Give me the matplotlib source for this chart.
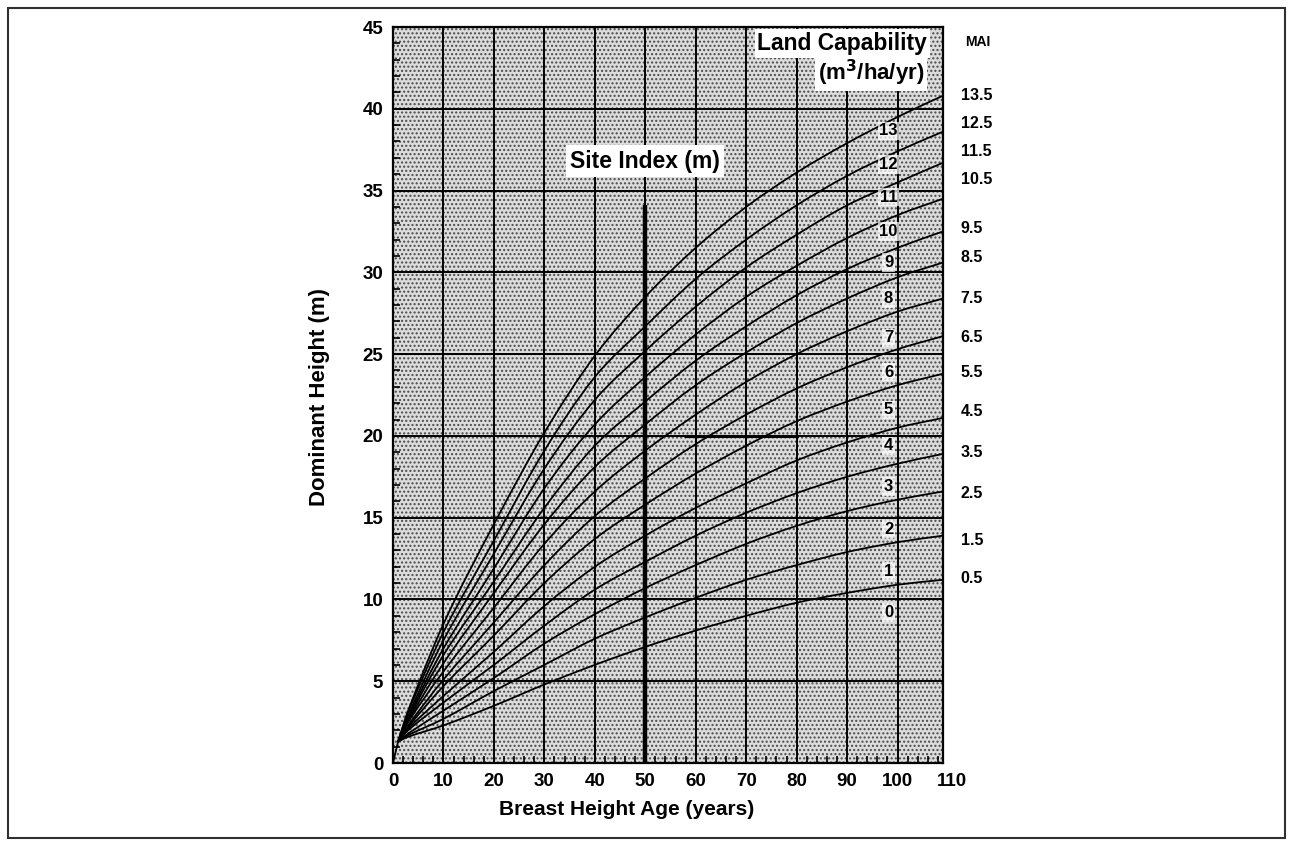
import matplotlib.pyplot as plt
from matplotlib.patches import Rectangle, PathPatch
from matplotlib.path import Path

FIGWIDTH = 12.93
FIGHEIGHT = 8.46

plt.rcParams['font.family'] = ['Liberation Sans', 'DejaVu Sans']
plt.rcParams['font.weight'] = 'bold'

# breast height age (years) at which each curve is sampled
ages = [1, 3, 10, 20, 30, 40, 50, 60, 70, 80, 90, 100, 109]

# dominant height (m) per curve, from the MAI 0.5 boundary up to MAI 13.5
curve_heights = [
    [1.3, 1.6, 2.3, 3.5, 4.8, 6.0, 7.1, 8.1, 9.0, 9.8, 10.4, 10.9, 11.2],
    [1.3, 1.7, 2.7, 4.4, 6.0, 7.6, 8.9, 10.1, 11.2, 12.1, 12.9, 13.5, 13.9],
    [1.3, 1.8, 3.2, 5.2, 7.3, 9.1, 10.7, 12.1, 13.4, 14.5, 15.4, 16.1, 16.6],
    [1.3, 2.0, 3.7, 6.0, 8.4, 10.6, 12.3, 13.9, 15.3, 16.5, 17.5, 18.3, 18.9],
    [1.3, 2.1, 4.1, 6.8, 9.6, 12.0, 13.9, 15.6, 17.1, 18.5, 19.6, 20.5, 21.1],
    [1.3, 2.2, 4.7, 7.8, 11.0, 13.7, 15.8, 17.7, 19.4, 20.9, 22.1, 23.1, 23.8],
    [1.3, 2.3, 5.1, 8.6, 12.1, 15.1, 17.4, 19.5, 21.3, 22.9, 24.2, 25.3, 26.1],
    [1.3, 2.5, 5.6, 9.5, 13.4, 16.6, 19.1, 21.3, 23.3, 25.0, 26.4, 27.6, 28.4],
    [1.3, 2.6, 6.1, 10.4, 14.6, 18.1, 20.7, 23.1, 25.1, 26.9, 28.4, 29.7, 30.6],
    [1.3, 2.7, 6.6, 11.1, 15.6, 19.4, 22.1, 24.6, 26.7, 28.6, 30.2, 31.5, 32.5],
    [1.3, 2.8, 7.0, 11.9, 16.8, 20.7, 23.6, 26.2, 28.5, 30.4, 32.1, 33.5, 34.5],
    [1.3, 2.9, 7.5, 12.8, 18.0, 22.2, 25.2, 27.9, 30.3, 32.3, 34.1, 35.5, 36.7],
    [1.3, 3.1, 8.0, 13.6, 19.1, 23.6, 26.7, 29.6, 32.0, 34.1, 35.9, 37.4, 38.6],
    [1.3, 3.2, 8.5, 14.6, 20.2, 24.9, 28.5, 31.5, 34.0, 36.1, 37.9, 39.5, 40.8],
]
stem_ages = [0, 1]
stem_heights = [0, 1.3]

# land capability classes written between the curves
land_classes = ['0', '1', '2', '3', '4', '5', '6', '7', '8', '9', '10', '11', '12', '13']
class_label_y = [9.2, 11.7, 14.3, 16.9, 19.4, 21.6, 23.9, 26.0, 28.4, 30.6, 32.5, 34.6, 36.6, 38.65]

# MAI values at the right-hand end of each curve
mai_values = ['0.5', '1.5', '2.5', '3.5', '4.5', '5.5', '6.5', '7.5', '8.5', '9.5',
              '10.5', '11.5', '12.5', '13.5']
mai_label_y = [11.3, 13.6, 16.5, 19.0, 21.5, 23.9, 26.0, 28.4, 30.9, 32.7, 35.7, 37.4, 39.1, 40.8]

SITE_INDEX_AGE = 50
SITE_INDEX_TOP = 34.1


def smooth_curve(xs, ys):
    # cubic Hermite segments through the sampled points, drawn as Bezier curves
    n = len(xs)
    slopes = []
    for i in range(n):
        lo, hi = max(i - 1, 0), min(i + 1, n - 1)
        slopes.append((ys[hi] - ys[lo]) / (xs[hi] - xs[lo]))
    verts = [(xs[0], ys[0])]
    codes = [Path.MOVETO]
    for i in range(n - 1):
        dx = (xs[i + 1] - xs[i]) / 3.0
        verts += [(xs[i] + dx, ys[i] + slopes[i] * dx),
                  (xs[i + 1] - dx, ys[i + 1] - slopes[i + 1] * dx),
                  (xs[i + 1], ys[i + 1])]
        codes += [Path.CURVE4] * 3
    return Path(verts, codes)


fig = plt.figure(figsize=(FIGWIDTH, FIGHEIGHT), dpi=100)
ax = fig.add_axes([393 / 1293, 83 / 846, 550 / 1293, 736 / 846])

ax.set_xlim(0, 109)
ax.set_ylim(0, 45)

# stippled paper background
ax.add_patch(Rectangle((0, 0), 1, 1, transform=ax.transAxes, facecolor='#dcdcdc',
                       edgecolor='#4a4a4a', linewidth=0, hatch='....', zorder=0))

ax.set_xticks(range(0, 101, 10))
ax.set_xticks(range(0, 109, 2), minor=True)
ax.set_yticks(range(0, 46, 5))
ax.set_yticks(range(0, 46, 1), minor=True)
ax.tick_params(which='major', length=0, pad=7, labelsize=13.5)
ax.tick_params(which='minor', direction='in', length=5, width=1.2, color='black')
ax.tick_params(which='both', top=False, right=False)

ax.grid(which='major', color='black', linewidth=1.4, zorder=1)
ax.set_axisbelow(True)
for side in ax.spines.values():
    side.set_linewidth(1.6)

ax.annotate('110', xy=(110.8, 0), xycoords=('data', 'axes fraction'),
            xytext=(0, -7), textcoords='offset points', ha='center', va='top',
            fontsize=13.5, fontweight='bold')

ax.set_xlabel('Breast Height Age (years)', fontsize=15, fontweight='bold')
ax.xaxis.set_label_coords(0.425, -0.05)
ax.set_ylabel('Dominant Height (m)', fontsize=16, fontweight='bold')
ax.yaxis.set_label_coords(-0.115, 0.497)

# heavier rule along the y=20 line between 60 and 80 years
ax.plot([58, 80], [20, 20], color='black', linewidth=2.2, zorder=2)

ax.plot([SITE_INDEX_AGE, SITE_INDEX_AGE], [0, SITE_INDEX_TOP], color='black',
        linewidth=3.2, zorder=3, solid_capstyle='butt')

ax.plot(stem_ages, stem_heights, color='black', linewidth=1.3, zorder=4)
for heights in curve_heights:
    ax.add_patch(PathPatch(smooth_curve(ages, heights), fill=False,
                           edgecolor='black', linewidth=1.3, zorder=4))

label_box = dict(facecolor='white', edgecolor='none', pad=1.2, alpha=0.7)
for name, y in zip(land_classes, class_label_y):
    ax.text(98.2, y, name, ha='center', va='center', fontsize=12,
            fontweight='bold', bbox=label_box, zorder=5)

for value, y in zip(mai_values, mai_label_y):
    ax.text(112.5, y, value, ha='left', va='center', fontsize=11.5,
            fontweight='bold', clip_on=False)
ax.text(113.3, 44.1, 'MAI', ha='left', va='center', fontsize=10, fontweight='bold',
        clip_on=False)

ax.text(SITE_INDEX_AGE, 36.8, 'Site Index (m)', ha='center', va='center', fontsize=16.5,
        fontweight='bold', zorder=5,
        bbox=dict(facecolor='white', edgecolor='none', pad=3))
ax.text(105.9, 44.0, 'Land Capability', ha='right', va='center', fontsize=16.5,
        fontweight='bold', zorder=5,
        bbox=dict(facecolor='white', edgecolor='none', pad=2))
ax.text(105.3, 42.2, '(m$^{\\mathbf{3}}$/ha/yr)', ha='right', va='center', fontsize=16,
        fontweight='bold', zorder=5,
        bbox=dict(facecolor='white', edgecolor='none', pad=2))

# page frame
fig.add_artist(Rectangle((8 / 1293, 8 / 846), 1277 / 1293, 830 / 846,
                         transform=fig.transFigure, fill=False,
                         edgecolor='#303030', linewidth=1.5))

fig.savefig('out.png', dpi=100)
